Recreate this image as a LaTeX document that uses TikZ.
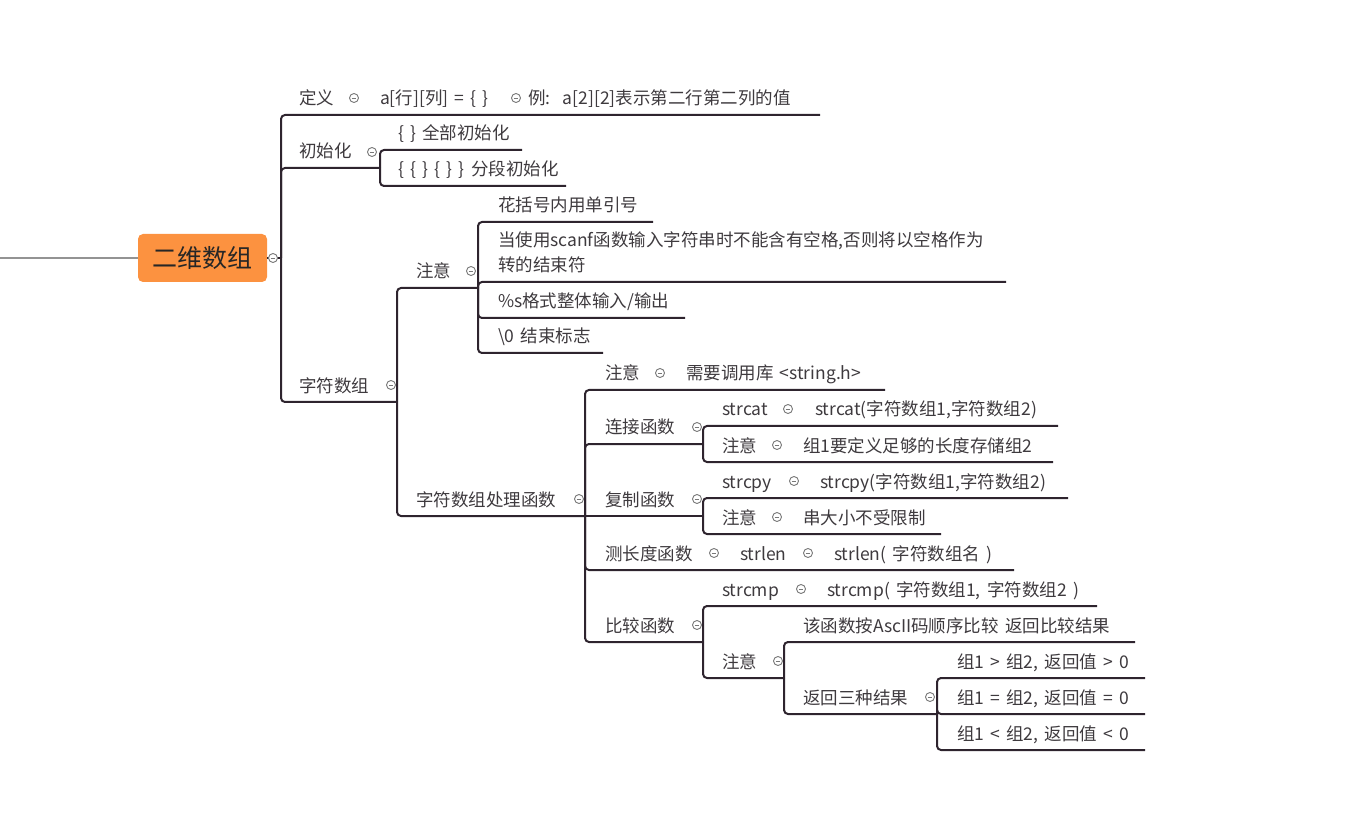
\documentclass[tikz,border=0pt]{standalone}
\usepackage{fontspec}
\setmainfont{Noto Sans CJK SC}[WordSpace=1.6]
\usetikzlibrary{calc}
\definecolor{linec}{RGB}{46,36,46}
\definecolor{txtc}{RGB}{62,58,62}
\definecolor{rootc}{RGB}{252,146,64}
\definecolor{foldc}{RGB}{120,120,120}
\begin{document}
\begin{tikzpicture}[x=1pt,y=-1pt,
  txt/.style={anchor=base west,inner sep=0pt,outer sep=0pt,text=txtc,font=\fontsize{17.5}{25}\selectfont},
  link/.style={draw=linec,line width=2pt,rounded corners=4pt},
  fold/.style={circle,draw=foldc,fill=white,line width=0.9pt,minimum size=9pt,inner sep=0pt,
    path picture={\draw[foldc,line width=0.8pt] ([xshift=-2.3pt]path picture bounding box.center) -- ([xshift=2.3pt]path picture bounding box.center);}},
  rootbox/.style={fill=rootc,rounded corners=5pt,minimum width=129pt,minimum height=48pt,inner sep=0pt,text=black!85,font=\fontsize{25}{30}\selectfont}
]
\useasboundingbox (0,0) rectangle (1345,834);

% root
\node[rootbox] (root) at (202.5,258) {二维数组};
\coordinate (inL) at (0,258);
\draw[foldc!80,line width=1.3pt] (inL) -- (root.west);
\coordinate (rootJ) at (281,258);
\draw[draw=linec,line width=2pt] (root.east) -- (rootJ);

% junctions and ends
\coordinate (defR) at (820,115);
\coordinate (initJ) at (380,168);
\coordinate (i1R) at (522,150);
\coordinate (i2R) at (566,186);
\coordinate (strJ) at (397,402);
\coordinate (zyJ) at (478,288);
\coordinate (z1R) at (653,222);
\coordinate (z2R) at (1006,282);
\coordinate (z3R) at (685,318);
\coordinate (z4R) at (603,353);
\coordinate (fnJ) at (585,516);
\coordinate (f1R) at (885,390);
\coordinate (ljJ) at (703,444);
\coordinate (lj1R) at (1058,426);
\coordinate (lj2R) at (1053,462);
\coordinate (fzJ) at (703,516);
\coordinate (fz1R) at (1068,498);
\coordinate (fz2R) at (941,534);
\coordinate (cdR) at (1014,570);
\coordinate (bjJ) at (703,642);
\coordinate (bj1R) at (1097,606);
\coordinate (bzJ) at (784,678);
\coordinate (bz1R) at (1135,642);
\coordinate (fhJ) at (937,714);
\coordinate (fh1R) at (1145,678);
\coordinate (fh2R) at (1145,714);
\coordinate (fh3R) at (1145,750);

% connectors
\draw[link] (rootJ) |- (defR);
\draw[link] (rootJ) |- (initJ);
\draw[link] (rootJ) |- (strJ);
\draw[link] (initJ) |- (i1R);
\draw[link] (initJ) |- (i2R);
\draw[link] (strJ) |- (zyJ);
\draw[link] (strJ) |- (fnJ);
\draw[link] (zyJ) |- (z1R);
\draw[link] (zyJ) |- (z2R);
\draw[link] (zyJ) |- (z3R);
\draw[link] (zyJ) |- (z4R);
\draw[link] (fnJ) |- (f1R);
\draw[link] (fnJ) |- (ljJ);
\draw[link] (fnJ) -- (fzJ);
\draw[link] (fnJ) |- (cdR);
\draw[link] (fnJ) |- (bjJ);
\draw[link] (ljJ) |- (lj1R);
\draw[link] (ljJ) |- (lj2R);
\draw[link] (fzJ) |- (fz1R);
\draw[link] (fzJ) |- (fz2R);
\draw[link] (bjJ) |- (bj1R);
\draw[link] (bjJ) |- (bzJ);
\draw[link] (bzJ) |- (bz1R);
\draw[link] (bzJ) |- (fhJ);
\draw[link] (fhJ) |- (fh1R);
\draw[link] (fhJ) |- (fh2R);
\draw[link] (fhJ) |- (fh3R);

% texts
\node[txt] (tdef) at (299,105) {定义};
\node[txt] (tdef1) at (380,105) {a[行][列] = \{ \}};
\node[txt] (tdef2) at (528,105) {例:~~a[2][2]表示第二行第二列的值};
\node[txt] (tinit) at (299,158) {初始化};
\node[txt] (ti1) at (398,140) {\{ \} 全部初始化};
\node[txt] (ti2) at (398,176) {\{ \{ \} \{ \} \} 分段初始化};
\node[txt] (tstr) at (299,392) {字符数组};
\node[txt] (tzy) at (416,278) {注意};
\node[txt] (tz1) at (498,212) {花括号内用单引号};
\node[txt] (tz2a) at (498,247) {当使用scanf函数输入字符串时不能含有空格,否则将以空格作为};
\node[txt] (tz2b) at (498,272) {转的结束符};
\node[txt] (tz3) at (498,308) {\%s格式整体输入/输出};
\node[txt] (tz4) at (498,343) {\textbackslash 0 结束标志};
\node[txt] (tfn) at (416,506) {字符数组处理函数};
\node[txt] (tf1) at (605,380) {注意};
\node[txt] (tf1b) at (686,380) {需要调用库 <string.h>};
\node[txt] (tlj) at (605,434) {连接函数};
\node[txt] (tlj1) at (722,416) {strcat};
\node[txt] (tlj1b) at (815,416) {strcat(字符数组1,字符数组2)};
\node[txt] (tlj2) at (722,452) {注意};
\node[txt] (tlj2b) at (803,452) {组1要定义足够的长度存储组2};
\node[txt] (tfz) at (605,506) {复制函数};
\node[txt] (tfz1) at (722,488) {strcpy};
\node[txt] (tfz1b) at (820,488) {strcpy(字符数组1,字符数组2)};
\node[txt] (tfz2) at (722,524) {注意};
\node[txt] (tfz2b) at (803,524) {串大小不受限制};
\node[txt] (tcd) at (605,560) {测长度函数};
\node[txt] (tcd1) at (740,560) {strlen};
\node[txt] (tcd2) at (834,560) {strlen( 字符数组名 )};
\node[txt] (tbj) at (605,632) {比较函数};
\node[txt] (tbj1) at (722,596) {strcmp};
\node[txt] (tbj1b) at (827,596) {strcmp( 字符数组1, 字符数组2 )};
\node[txt] (tbz) at (722,668) {注意};
\node[txt] (tbz1) at (803,632) {该函数按AscII码顺序比较 返回比较结果};
\node[txt] (tfh) at (803,704) {返回三种结果};
\node[txt] (tfh1) at (957,668) {组1 > 组2, 返回值 > 0};
\node[txt] (tfh2) at (957,704) {组1 = 组2, 返回值 = 0};
\node[txt] (tfh3) at (957,740) {组1 < 组2, 返回值 < 0};

% fold markers
\node[fold] (c0) at (273,258) {};
\node[fold] (c1) at (354,98) {};
\node[fold] (c2) at (516,98) {};
\node[fold] (c3) at (372,152) {};
\node[fold] (c4) at (471,271) {};
\node[fold] (c5) at (391,385) {};
\node[fold] (c6) at (579,499) {};
\node[fold] (c7) at (660,373) {};
\node[fold] (c8) at (697,427) {};
\node[fold] (c9) at (788,409) {};
\node[fold] (c10) at (777,445) {};
\node[fold] (c11) at (697,499) {};
\node[fold] (c12) at (794,481) {};
\node[fold] (c13) at (777,517) {};
\node[fold] (c14) at (714,553) {};
\node[fold] (c15) at (808,553) {};
\node[fold] (c16) at (801,589) {};
\node[fold] (c17) at (697,625) {};
\node[fold] (c18) at (778,661) {};
\node[fold] (c19) at (930,697) {};
\end{tikzpicture}
\end{document}
